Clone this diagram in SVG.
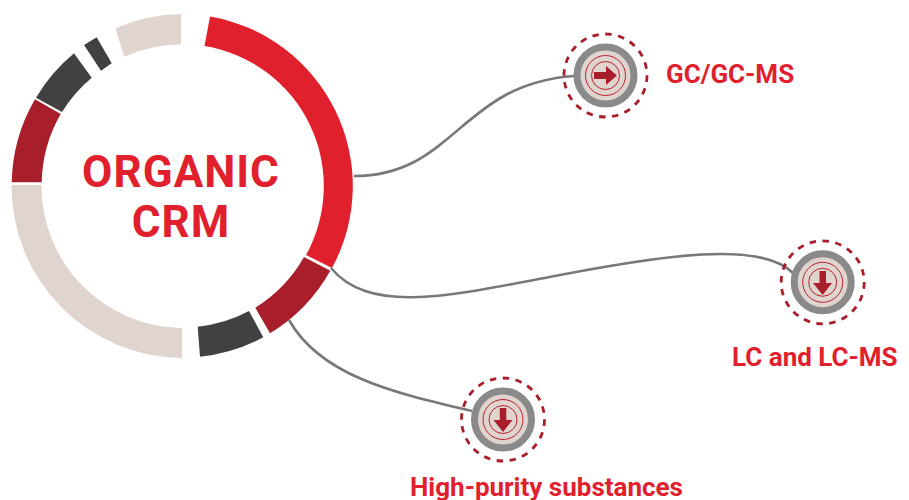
<svg xmlns="http://www.w3.org/2000/svg" width="909" height="500" viewBox="0 0 909 500">
<style>
.t{font-family:"Roboto","Liberation Sans",sans-serif;font-weight:700;fill:#e1202d}
.lb{font-size:26px}
.hd{font-size:44px;letter-spacing:1px}
.ln{fill:none;stroke:#77787b;stroke-width:2.6}
.halo{fill:none;stroke:#a81e2b;stroke-width:2.8;stroke-dasharray:6.5 6.5}
.disc{fill:#e0d4cf;stroke:#8a8a8a;stroke-width:7}
.rg{fill:none;stroke:#b8202f;stroke-width:1}
.ar{fill:#a81e2b}
</style>
<defs>
<g id="icon">
<circle class="halo" r="41.5"/>
<circle class="disc" r="28.5"/>
<circle class="rg" r="20"/>
<circle class="rg" r="14"/>
</g>
</defs>
<g id="ring">
<path fill="#e1202d" d="M210 16.5A172 172 0 0 1 332 268L306 255A142 142 0 0 0 204.500 46Z"/>
<path fill="#a81e2b" d="M330.300 270.700L304 257A142 142 0 0 1 255.300 307.700L270 333.300A172 172 0 0 0 330.300 270.700Z"/>
<path fill="#414042" d="M249 311L263.300 337.300A172 172 0 0 1 200 356.700L197.700 326.700A142 142 0 0 0 249 311Z"/>
<path fill="#e0d4cf" d="M182 358A172 172 0 0 1 11.500 185L41.500 185A142 142 0 0 0 182 328Z"/>
<path fill="#a81e2b" d="M11.700 182.300A172 172 0 0 1 35 99.300L60.700 114A142 142 0 0 0 41.700 182.300Z"/>
<path fill="#414042" d="M36 97.700A172 172 0 0 1 74 53.300L91.700 77.700A142 142 0 0 0 62 112Z"/>
<path fill="#414042" d="M84 45L96.700 37.300L111.700 63.300L101 70.700Z"/>
<path fill="#e0d4cf" d="M115.300 28.300A172 172 0 0 1 181 14L181 44.300A142 142 0 0 0 124.300 56.700Z"/>
</g>
<g id="connectors">
<path class="ln" d="M354 176C455 176 460 84 574 76"/>
<path class="ln" d="M331 268C370 315 450 296 560 275C660 256 760 240 793 273"/>
<path class="ln" d="M289 320C320 375 390 392 472 411"/>
</g>
<g id="title"><text class="t hd" x="181" y="187" text-anchor="middle">ORGANIC</text><text class="t hd" x="181" y="237" text-anchor="middle">CRM</text></g>
<g id="node-gc"><use href="#icon" x="605.500" y="75.500"/><path class="ar" d="M594 72H606V66L617 75.500L606 85V79H594Z"/><text class="t lb" x="666" y="83">GC/GC-MS</text></g>
<g id="node-lc"><use href="#icon" x="822.700" y="282.300"/><path class="ar" d="M819.500 271H826V283H832L822.700 295L813 283H819.500Z"/><text class="t lb" x="732" y="366">LC and LC-MS</text></g>
<g id="node-hp"><use href="#icon" x="503" y="419.500"/><path class="ar" d="M499.800 408H506.300V420H512.500L503 432L493.500 420H499.800Z"/><text class="t lb" x="410" y="496">High-purity substances</text></g>
</svg>
